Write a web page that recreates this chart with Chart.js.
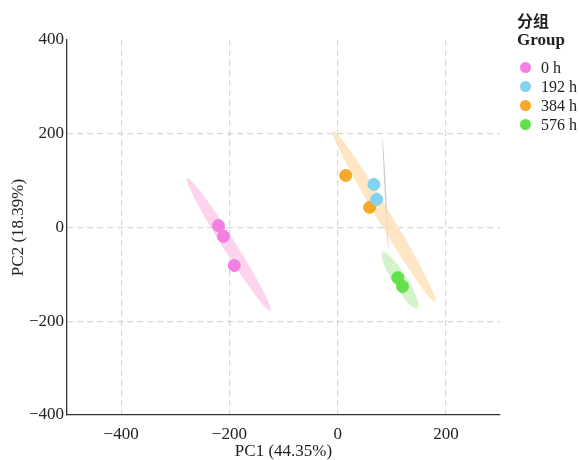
<!DOCTYPE html>
<html>
<head>
<meta charset="utf-8">
<script src="https://cdn.jsdelivr.net/npm/chart.js@4.4.0/dist/chart.umd.min.js"></script>
<style>
  body { margin: 0; background: #fff; }
  #wrap { position: relative; width: 580px; height: 460px; }
  #legend { position: absolute; left: 517px; top: 10px; font-family: "Liberation Serif", serif; color: #222; }
  #legend .t1 { font-family: "Noto Sans CJK SC", sans-serif; font-weight: bold; font-size: 16px; line-height: 20px; }
  #legend .t2 { font-size: 17px; font-weight: bold; line-height: 20px; margin-bottom: 8px; }
  #legend .item { display: flex; align-items: center; height: 19px; font-size: 16px; }
  #legend .dot { width: 11px; height: 11px; border-radius: 50%; margin: 0 10px 0 3px; }
</style>
</head>
<body>
<div id="wrap">
  <canvas id="pca" width="580" height="460"></canvas>
  <div id="legend"></div>
</div>
<script>
const groups = ["0 h", "192 h", "384 h", "576 h"];
const colors = ["#f27fe2", "#80d3f3", "#f6a829", "#62e14c"];
const ellipseColors = ["rgba(252,200,232,0.8)", "rgba(170,170,170,0.6)", "rgba(253,222,178,0.75)", "rgba(200,240,190,0.8)"];

// PC1 / PC2 scores
const pc1 = [
  [-220, -211, -191],
  [67, 72],
  [15, 59],
  [111, 120]
];
const pc2 = [
  [4, -19, -81],
  [92, 60],
  [111, 43],
  [-107, -126]
];

// confidence ellipse major-axis end points (PC1, PC2)
const ellipseStart = [[-278, 105], [83, 192], [-9, 207], [83, -53]];
const ellipseEnd = [[-124, -178], [94, -49], [181, -160], [148, -173]];

const xTicks = [-400, -200, 0, 200];
const yTicks = [-400, -200, 0, 200, 400];

// legend
const legend = document.getElementById("legend");
let html = '<div class="t1">分组</div><div class="t2">Group</div>';
groups.forEach((g, i) => {
  html += `<div class="item"><span class="dot" style="background:${colors[i]}"></span>${g}</div>`;
});
legend.innerHTML = html;

const ellipseHalfWidth = [6.5, 0.7, 7, 7];

const ellipsePlugin = {
  id: "ellipses",
  beforeDatasetsDraw(chart) {
    const ctx = chart.ctx;
    const xs = chart.scales.x, ys = chart.scales.y;
    const area = chart.chartArea;
    ctx.save();
    ctx.beginPath();
    ctx.rect(area.left, area.top, area.right - area.left, area.bottom - area.top);
    ctx.clip();
    ellipseStart.forEach((s, i) => {
      const e = ellipseEnd[i];
      const x1 = xs.getPixelForValue(s[0]), y1 = ys.getPixelForValue(s[1]);
      const x2 = xs.getPixelForValue(e[0]), y2 = ys.getPixelForValue(e[1]);
      const cx = (x1 + x2) / 2, cy = (y1 + y2) / 2;
      const rx = Math.hypot(x2 - x1, y2 - y1) / 2;
      const ang = Math.atan2(y2 - y1, x2 - x1);
      ctx.beginPath();
      ctx.ellipse(cx, cy, rx, ellipseHalfWidth[i], ang, 0, Math.PI * 2);
      ctx.fillStyle = ellipseColors[i];
      ctx.fill();
    });
    ctx.restore();
  }
};

const datasets = groups.map((g, i) => ({
  label: g,
  data: pc1[i].map((x, j) => ({ x: x, y: pc2[i][j] })),
  backgroundColor: colors[i],
  borderColor: colors[i],
  pointRadius: 6,
  pointHoverRadius: 6
}));

const tickFont = { family: "Liberation Serif", size: 17 };
const gridColor = "rgba(205,205,205,0.8)";
const fmt = (v) => v < 0 ? "\u2212" + Math.abs(v) : String(v);

new Chart(document.getElementById("pca"), {
  type: "scatter",
  data: { datasets: datasets },
  plugins: [ellipsePlugin],
  options: {
    responsive: false,
    animation: false,
    layout: { padding: { left: 4, right: 80, top: 40, bottom: 0 } },
    plugins: { legend: { display: false }, tooltip: { enabled: false } },
    scales: {
      x: {
        type: "linear",
        min: -500,
        max: 300,
        afterBuildTicks: (scale) => { scale.ticks = xTicks.map(v => ({ value: v })); },
        afterFit: (scale) => { scale.height = 45; },
        ticks: { font: tickFont, color: "#222", padding: 9, callback: fmt },
        grid: { color: gridColor, drawTicks: false, lineWidth: 1.2 },
        border: { display: true, color: "#333", width: 1.3, dash: [6, 4] },
        title: { display: true, text: "PC1 (44.35%)", font: { family: "Liberation Serif", size: 17 }, color: "#222", padding: { top: -2, bottom: -2 } }
      },
      y: {
        type: "linear",
        min: -400,
        max: 400,
        afterBuildTicks: (scale) => { scale.ticks = yTicks.map(v => ({ value: v })); },
        afterFit: (scale) => { scale.width = 63; },
        ticks: { font: tickFont, color: "#222", padding: 3, callback: fmt },
        grid: {
          color: (c) => (c.tick && Math.abs(c.tick.value) === 400) ? "rgba(0,0,0,0)" : gridColor,
          drawTicks: false,
          lineWidth: 1.2
        },
        border: { display: true, color: "#333", width: 1.3, dash: [6, 4] },
        title: { display: true, text: "PC2 (18.39%)", font: { family: "Liberation Serif", size: 17 }, color: "#222", padding: { bottom: 0 } }
      }
    }
  }
});
</script>
</body>
</html>
